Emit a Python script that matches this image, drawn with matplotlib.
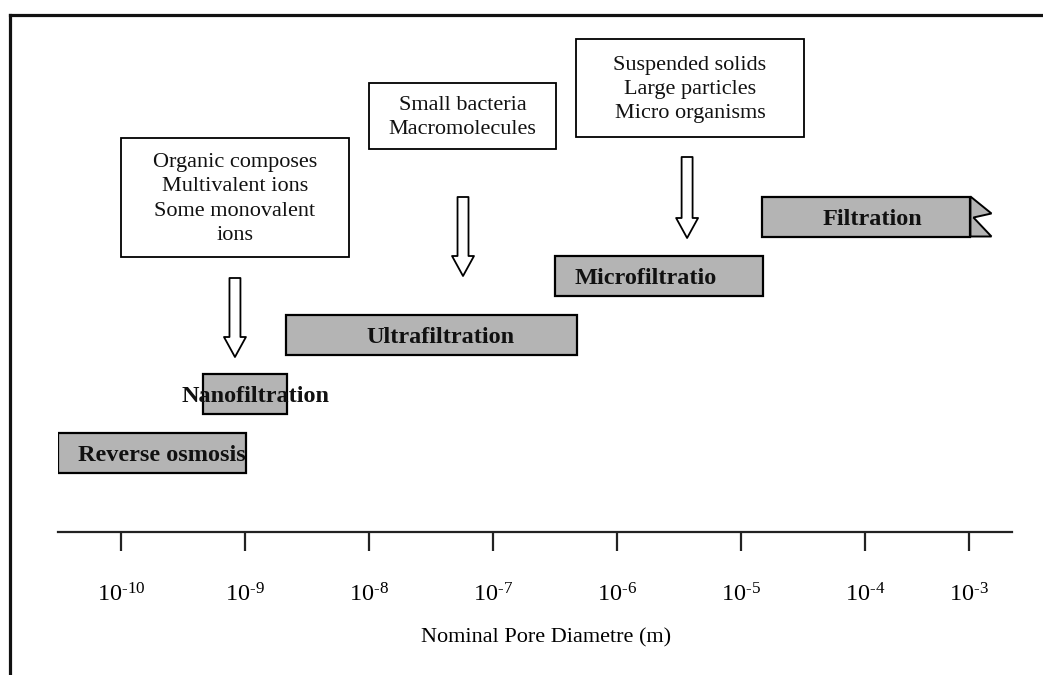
import numpy as np
import matplotlib
matplotlib.use("agg")
import matplotlib.pyplot as plt
from matplotlib.patches import Rectangle, Polygon, FancyArrowPatch
from matplotlib.lines import Line2D

plt.rcParams['font.family'] = 'Liberation Serif'
plt.rcParams['mathtext.fontset'] = 'custom'
plt.rcParams['mathtext.rm'] = 'Liberation Serif'
plt.rcParams['mathtext.it'] = 'Liberation Serif:italic'
plt.rcParams['mathtext.bf'] = 'Liberation Serif:bold'

# membrane processes, pore diameter range as log10(d / m)
processes = ["Reverse osmosis", "Nanofiltration", "Ultrafiltration", "Microfiltratio", "Filtration"]
log_min = [-10.51, -9.34, -8.67, -6.50, -4.83]
log_max = [-8.99, -8.66, -6.32, -4.82, -3.15]

exponents = [-10, -9, -8, -7, -6, -5, -4, -3]
tick_pos = [-10, -9, -8, -7, -6, -5, -4, -3.16]  # last tick is drawn short in the original

notes = ["Organic composes\nMultivalent ions\nSome monovalent\nions",
         "Small bacteria\nMacromolecules",
         "Suspended solids\nLarge particles\nMicro organisms"]

# layout (y in pixels from the top, x in decades)
PX = 1 / 124.0
row_y = [452.5, 394, 334.5, 276, 216.5]
bar_h = 40
label_x = [-10.347, -8.919, -7.427, -6.339, -3.944]
label_ha = ["left", "center", "center", "left", "center"]
note_box = [(-10.0, -8.161, 138, 257), (-8.0, -6.492, 83, 149), (-6.331, -4.492, 39, 137)]
arrows = [(-9.081, 278, 357), (-7.242, 197, 276), (-5.435, 157, 238)]

fig = plt.figure(figsize=(10.43, 6.75), dpi=100)
ax = fig.add_axes([58 / 1043, 143 / 675, 954 / 1043, 532 / 675])
ax.patch.set_visible(False)
ax.set_xlim(-10.508, -2.815)
ax.set_ylim(532, 0)

for s in ["left", "right", "top"]:
    ax.spines[s].set_visible(False)
ax.spines["bottom"].set_linewidth(1.6)
ax.spines["bottom"].set_color("#222222")
ax.set_yticks([])
ax.set_xticks(tick_pos)
# hyphen rather than a long minus, as in the original
ax.set_xticklabels(["10$^{\u2010" + str(abs(e)) + "}$" for e in exponents], fontsize=17.5)
ax.tick_params(axis="x", direction="out", length=13.7, width=1.6, color="#222222", pad=23)
ax.set_xlabel("Nominal Pore Diametre (m)", fontsize=16)
ax.xaxis.set_label_coords(0.5115, -0.181)

widths = np.array(log_max) - np.array(log_min)
bars = ax.barh(row_y, widths, left=log_min, height=bar_h, color="#b4b4b4",
               edgecolor="black", linewidth=1.6)

for i, name in enumerate(processes):
    t = ax.text(label_x[i], row_y[i] + 3, name, ha=label_ha[i], va="center",
                fontsize=17.5, fontweight="bold", color="#111111")
    if i == 0:
        t.set_clip_path(bars[0])

# torn end of the last bar
x1 = log_max[-1]
top = row_y[-1] - bar_h / 2
bot = row_y[-1] + bar_h / 2
ax.add_patch(Polygon([(x1, top), (x1 + 21 * PX, top + 17), (x1 + 3 * PX, top + 21),
                      (x1 + 21 * PX, bot), (x1, bot)], closed=True,
                     facecolor="#b4b4b4", edgecolor="black", linewidth=1.4))

for (bx0, bx1, by0, by1), txt in zip(note_box, notes):
    ax.add_patch(Rectangle((bx0, by0), bx1 - bx0, by1 - by0, facecolor="white",
                           edgecolor="black", linewidth=1.3))
    ax.text((bx0 + bx1) / 2, (by0 + by1) / 2 + 1.5, txt, ha="center", va="center",
            fontsize=16, linespacing=1.38, color="#111111")

for ax_x, ytop, ytip in arrows:
    ax.add_patch(FancyArrowPatch((ax_x, ytop), (ax_x, ytip),
                                 arrowstyle="simple,head_length=14.4,head_width=15.8,tail_width=7.9",
                                 facecolor="white", edgecolor="black", linewidth=1.3,
                                 shrinkA=0, shrinkB=0))

# page frame
fig.add_artist(Line2D([10 / 1043, 10 / 1043], [0, 1 - 15 / 675], transform=fig.transFigure,
                      lw=2.3, color="#111111", solid_capstyle="projecting"))
fig.add_artist(Line2D([10 / 1043, 1], [1 - 15 / 675, 1 - 15 / 675], transform=fig.transFigure,
                      lw=2.3, color="#111111", solid_capstyle="projecting"))

fig.savefig("out.png", dpi=100)
